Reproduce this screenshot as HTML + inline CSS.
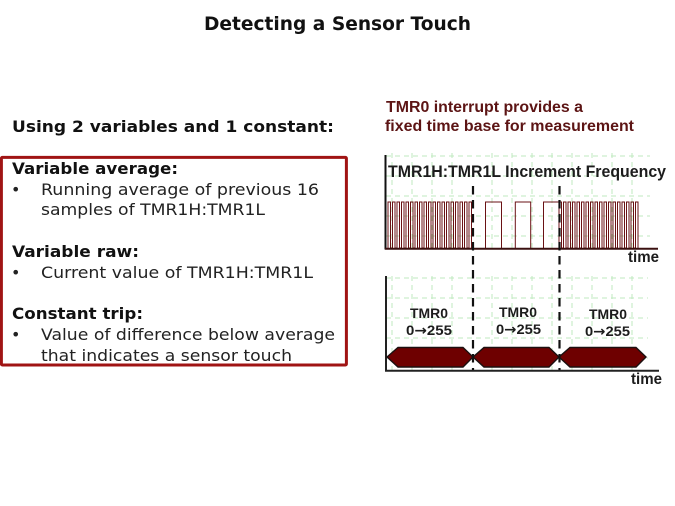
<!DOCTYPE html>
<html><head><meta charset="utf-8"><style>
html,body{margin:0;padding:0;background:#fff;width:675px;height:506px;overflow:hidden}
svg{display:block}
.v{font-family:"DejaVu Sans",sans-serif;font-size:16px;fill:#222}
.vb{font-family:"DejaVu Sans",sans-serif;font-size:16px;font-weight:bold;fill:#111}
.a{font-family:"Liberation Sans",sans-serif;font-weight:bold;fill:#1c1c1c}
</style></head><body>
<svg width="675" height="506" viewBox="0 0 675 506" xmlns="http://www.w3.org/2000/svg">
<rect width="675" height="506" fill="#fff"/>
<text x="204" y="30" textLength="267" lengthAdjust="spacingAndGlyphs" font-family="DejaVu Sans, sans-serif" font-weight="bold" font-size="18.8" fill="#111">Detecting a Sensor Touch</text>
<text class="vb" x="12" y="132" textLength="322" lengthAdjust="spacingAndGlyphs">Using 2 variables and 1 constant:</text>
<rect x="1.4" y="157.4" width="345" height="207.6" rx="1" fill="none" stroke="#a01414" stroke-width="3"/>
<text class="vb" x="12" y="174" textLength="166" lengthAdjust="spacingAndGlyphs">Variable average:</text>
<text class="v" x="11" y="195">•</text>
<text class="v" x="41" y="195" textLength="278" lengthAdjust="spacingAndGlyphs">Running average of previous 16</text>
<text class="v" x="41" y="215" textLength="224" lengthAdjust="spacingAndGlyphs">samples of TMR1H:TMR1L</text>
<text class="vb" x="12" y="257" textLength="127" lengthAdjust="spacingAndGlyphs">Variable raw:</text>
<text class="v" x="11" y="278">•</text>
<text class="v" x="41" y="278" textLength="272" lengthAdjust="spacingAndGlyphs">Current value of TMR1H:TMR1L</text>
<text class="vb" x="12" y="319" textLength="131" lengthAdjust="spacingAndGlyphs">Constant trip:</text>
<text class="v" x="11" y="340">•</text>
<text class="v" x="41" y="340" textLength="294" lengthAdjust="spacingAndGlyphs">Value of difference below average</text>
<text class="v" x="41" y="361" textLength="251" lengthAdjust="spacingAndGlyphs">that indicates a sensor touch</text>

<g stroke="#bfeabf" stroke-width="1" stroke-dasharray="5 4" fill="none">
<path d="M386 156H650M386 176H650M386 196H650M386 216H650M386 236H650"/>
<path d="M392 153V248M412 153V248M432 153V248M452 153V248M492 153V248M512 153V248M532 153V248M552 153V248M572 153V248M592 153V248M612 153V248M632 153V248"/>
<path d="M386 278H648M386 298H648M386 318H648M386 338H648M386 358H648"/>
<path d="M392 276V372M412 276V372M432 276V372M452 276V372M492 276V372M512 276V372M532 276V372M552 276V372M572 276V372M592 276V372M612 276V372M632 276V372"/>
</g>

<text x="386" y="112" textLength="197" lengthAdjust="spacingAndGlyphs" font-family="Liberation Sans, sans-serif" font-weight="bold" font-size="16" fill="#5c1414">TMR0 interrupt provides a</text>
<text x="385" y="131" textLength="249" lengthAdjust="spacingAndGlyphs" font-family="Liberation Sans, sans-serif" font-weight="bold" font-size="16" fill="#5c1414">fixed time base for measurement</text>
<text class="a" x="388" y="177" textLength="278" lengthAdjust="spacingAndGlyphs" font-size="17">TMR1H:TMR1L Increment Frequency</text>

<path fill="none" stroke="#6a1214" stroke-width="1" d="M388 248V202h2.5v46h2v-46h2.5v46h2v-46h2.5v46h2v-46h2.5v46h2v-46h2.5v46h2v-46h2.5v46h2v-46h2.5v46h2v-46h2.5v46h2v-46h2.5v46h2v-46h2.5v46h2v-46h2.5v46h2v-46h2.5v46h2v-46h2.5v46h2v-46h2.5v46h2v-46h2.5v46h2v-46h2.5v46h2v-46h2.5v46h2v-46h2.5v46h2v-46h2.5v46h2M485.5 248V202h16v46M515.3 248V202h15.4v46M543.5 248V202h15.5v46"/>
<path fill="none" stroke="#6a1214" stroke-width="1" d="M559 248V202h2.5v46h2v-46h2.5v46h2v-46h2.5v46h2v-46h2.5v46h2v-46h2.5v46h2v-46h2.5v46h2v-46h2.5v46h2v-46h2.5v46h2v-46h2.5v46h2v-46h2.5v46h2v-46h2.5v46h2v-46h2.5v46h2v-46h2.5v46h2v-46h2.5v46h2v-46h2.5v46h2v-46h2.5v46h2v-46h2.5v46h2v-46h2.5v46"/>

<path d="M385.5 155V249.5" stroke="#111" stroke-width="2" fill="none"/>
<path d="M385 248.7H658" stroke="#3a1010" stroke-width="2" fill="none"/>
<path d="M386 276V371.5M385 370.7H659" stroke="#222" stroke-width="2" fill="none"/>

<g fill="#6e0000" stroke="#1c1010" stroke-width="1.4" stroke-linejoin="miter">
<polygon points="387,357 398,347.5 463,347.5 473,357 463,367 398,367"/>
<polygon points="473,357 484,347.5 549,347.5 559,357 549,367 484,367"/>
<polygon points="559,357 570,347.5 636,347.5 646,357 636,367 570,367"/>
</g>

<path d="M473 186V370M559.5 186V370" stroke="#111" stroke-width="2.2" stroke-dasharray="8.5 5.5" fill="none"/>

<text class="a" x="628" y="262" textLength="31" lengthAdjust="spacingAndGlyphs" font-size="16">time</text>
<text class="a" x="631" y="384" textLength="31" lengthAdjust="spacingAndGlyphs" font-size="16">time</text>
<g font-size="14">
<text class="a" x="410" y="318" textLength="38" lengthAdjust="spacingAndGlyphs">TMR0</text>
<text class="a" x="406" y="335" textLength="46" lengthAdjust="spacingAndGlyphs">0<tspan font-family="DejaVu Sans, sans-serif">→</tspan>255</text>
<text class="a" x="499" y="317" textLength="38" lengthAdjust="spacingAndGlyphs">TMR0</text>
<text class="a" x="496" y="334" textLength="45" lengthAdjust="spacingAndGlyphs">0<tspan font-family="DejaVu Sans, sans-serif">→</tspan>255</text>
<text class="a" x="589" y="319" textLength="38" lengthAdjust="spacingAndGlyphs">TMR0</text>
<text class="a" x="585" y="336" textLength="45" lengthAdjust="spacingAndGlyphs">0<tspan font-family="DejaVu Sans, sans-serif">→</tspan>255</text>
</g>
</svg>
</body></html>
